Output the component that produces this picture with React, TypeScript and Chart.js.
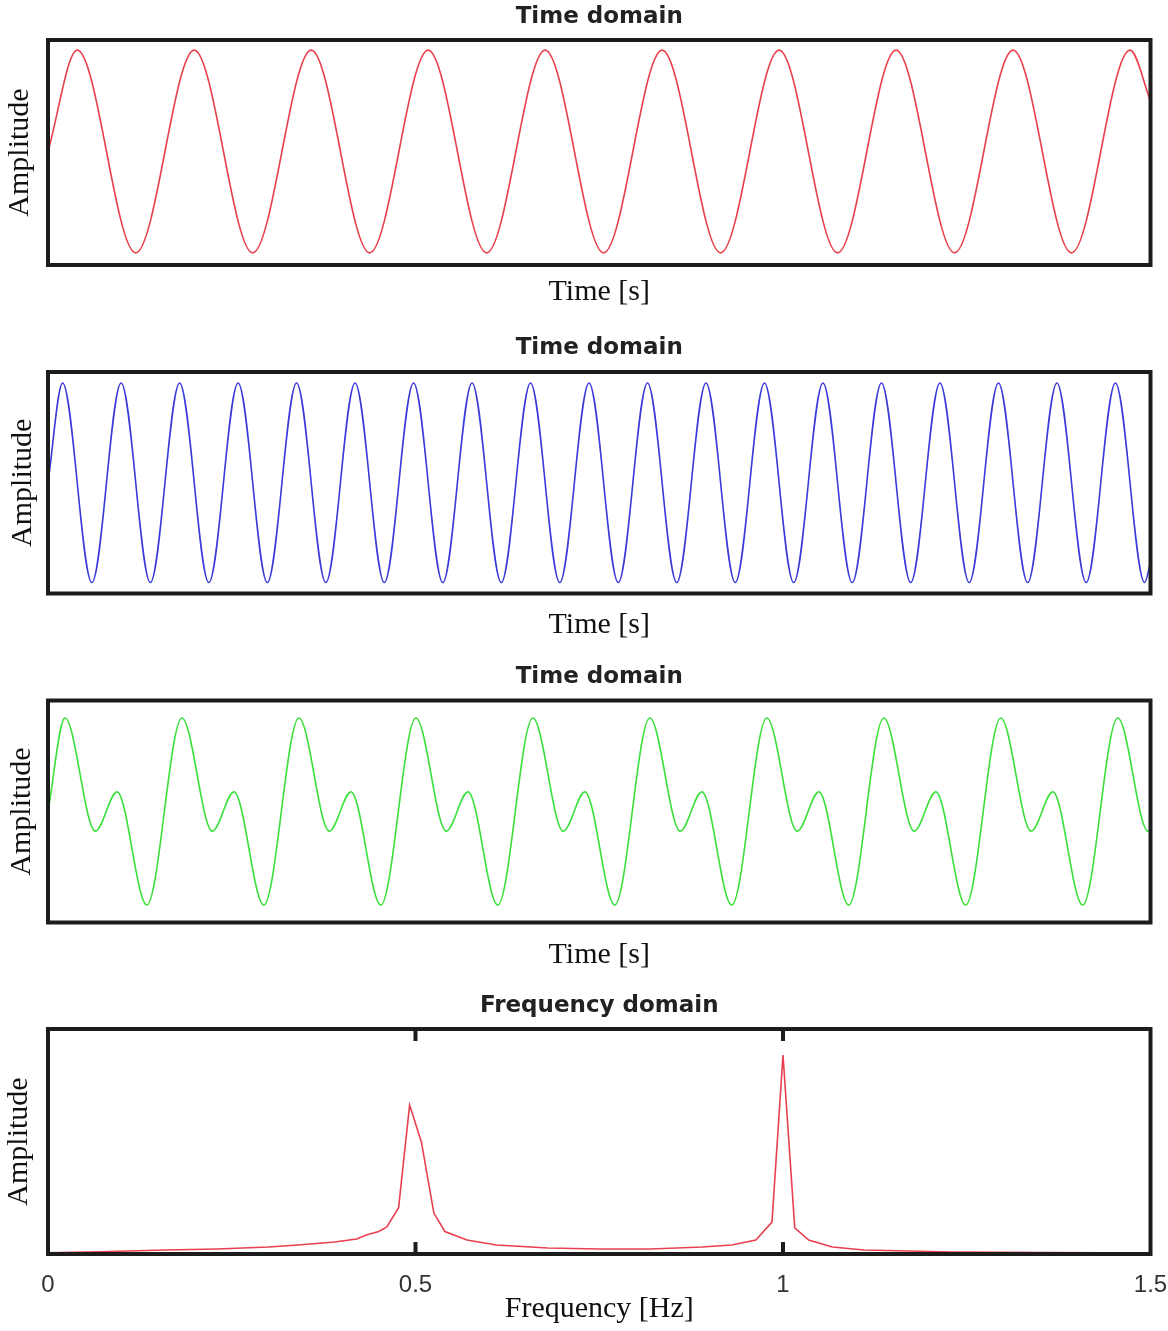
import React, { useEffect, useRef } from "react";
import { Chart, registerables } from "chart.js";

Chart.register(...registerables);

// ---- Data ----
// Panel 1 (red, time domain): extrema times [s] and amplitudes
const redTime = [0, 0.5, 1.5, 2.5, 3.5, 4.5, 5.5, 6.5, 7.5, 8.5, 9.5, 10.5, 11.5, 12.5, 13.5, 14.5, 15.5, 16.5, 17.5, 18.5, 18.85];
const redAmp = [0, 1, -1, 1, -1, 1, -1, 1, -1, 1, -1, 1, -1, 1, -1, 1, -1, 1, -1, 1, 0.5];

// Panel 2 (blue, time domain)
const blueTime = [
  0, 0.25, 0.75, 1.25, 1.75, 2.25, 2.75, 3.25, 3.75, 4.25, 4.75, 5.25, 5.75, 6.25, 6.75, 7.25, 7.75,
  8.25, 8.75, 9.25, 9.75, 10.25, 10.75, 11.25, 11.75, 12.25, 12.75, 13.25, 13.75, 14.25, 14.75,
  15.25, 15.75, 16.25, 16.75, 17.25, 17.75, 18.25, 18.75, 18.85,
];
const blueAmp = [
  0, 1, -1, 1, -1, 1, -1, 1, -1, 1, -1, 1, -1, 1, -1, 1, -1,
  1, -1, 1, -1, 1, -1, 1, -1, 1, -1, 1, -1, 1, -1,
  1, -1, 1, -1, 1, -1, 1, -1, -0.8,
];

// Panel 3 (green, time domain)
const greenTime = [
  0, 0.29, 0.81, 1.18, 1.69, 2.29, 2.81, 3.18, 3.69, 4.29, 4.81, 5.18, 5.69, 6.29, 6.81, 7.18, 7.69,
  8.29, 8.81, 9.18, 9.69, 10.29, 10.81, 11.18, 11.69, 12.29, 12.81, 13.18, 13.69, 14.29, 14.81,
  15.18, 15.69, 16.29, 16.81, 17.18, 17.69, 18.29, 18.81, 18.85,
];
const greenAmp = [
  0, 1.76, -0.37, 0.37, -1.76, 1.76, -0.37, 0.37, -1.76, 1.76, -0.37, 0.37, -1.76, 1.76, -0.37, 0.37, -1.76,
  1.76, -0.37, 0.37, -1.76, 1.76, -0.37, 0.37, -1.76, 1.76, -0.37, 0.37, -1.76, 1.76, -0.37,
  0.37, -1.76, 1.76, -0.37, 0.37, -1.76, 1.76, -0.37, -0.36,
];

// Panel 4 (frequency domain)
const freqHz = [
  0, 0.07, 0.16, 0.23, 0.3, 0.34, 0.39, 0.42, 0.433, 0.45, 0.461, 0.477, 0.492, 0.508, 0.525, 0.54,
  0.57, 0.61, 0.68, 0.75, 0.82, 0.89, 0.93, 0.963, 0.985, 1.0, 1.016, 1.035, 1.067, 1.11, 1.23, 1.5,
];
const freqAmp = [
  0.005, 0.01, 0.018, 0.022, 0.031, 0.04, 0.053, 0.067, 0.084, 0.1, 0.12, 0.206, 0.662, 0.498, 0.182, 0.1,
  0.062, 0.04, 0.027, 0.022, 0.022, 0.031, 0.04, 0.062, 0.142, 0.884, 0.116, 0.062, 0.031, 0.018, 0.009, 0.004,
];
const freqTicks = [0, 0.5, 1, 1.5];

const timeTitle = "Time domain";
const freqTitle = "Frequency domain";
const ampLabel = "Amplitude";
const timeLabel = "Time [s]";
const freqLabel = "Frequency [Hz]";

const framePlugin = {
  id: "frame",
  afterDatasetsDraw(chart: any, _args: any, opts: any) {
    const { ctx, chartArea: a } = chart;
    ctx.save();
    ctx.strokeStyle = "#1c1c1c";
    if (opts.innerTicks) {
      const xs = chart.scales.x;
      ctx.lineWidth = 4;
      xs.ticks.forEach((t: any) => {
        const px = xs.getPixelForValue(t.value);
        if (px <= a.left + 3 || px >= a.right - 3) return;
        ctx.beginPath();
        ctx.moveTo(px, a.top);
        ctx.lineTo(px, a.top + 12);
        ctx.moveTo(px, a.bottom);
        ctx.lineTo(px, a.bottom - 12);
        ctx.stroke();
      });
    }
    ctx.lineWidth = 4;
    ctx.strokeRect(a.left, a.top, a.right - a.left, a.bottom - a.top);
    ctx.restore();
  },
};

type PanelSpec = {
  top: number;
  height: number;
  titleY: number;
  areaTop: number;
  areaBottom: number;
  xlabelY: number;
  ylabelX: number;
  title: string;
  xLabel: string;
  xs: number[];
  ys: number[];
  color: string;
  xMax: number;
  yMin: number;
  yMax: number;
  smooth: boolean;
  freq?: boolean;
  tickY?: number;
};

const WIDTH = 1168;
const AREA_LEFT = 48;
const AREA_RIGHT = 1150.5;

function buildConfig(p: PanelSpec): any {
  const titleSize = 23;
  const lh = titleSize * 1.2;
  const tTop = p.titleY - p.top - lh / 2;
  const tBottom = p.areaTop - p.top - tTop - lh;
  const xH = p.top + p.height - p.areaBottom;
  const xPad = p.top + p.height - p.xlabelY - 18;
  const tickPad = p.tickY ? p.tickY - p.areaBottom - 14.4 : 0;

  return {
    type: "line",
    data: {
      datasets: [
        {
          data: p.xs.map((x, i) => ({ x, y: p.ys[i] })),
          borderColor: p.color,
          borderWidth: 1.6,
          pointRadius: 0,
          fill: false,
          tension: p.smooth ? 0.4 : 0,
          cubicInterpolationMode: p.smooth ? "monotone" : "default",
        },
      ],
    },
    options: {
      responsive: false,
      animation: false,
      layout: { padding: { left: 0, right: WIDTH - AREA_RIGHT, top: 0, bottom: 0 } },
      plugins: {
        legend: { display: false },
        tooltip: { enabled: false },
        title: {
          display: true,
          fullSize: false,
          text: p.title,
          color: "#222",
          font: { family: "DejaVu Sans", size: titleSize, weight: "bold", lineHeight: 1.2 },
          padding: { top: tTop, bottom: tBottom },
        },
        frame: { innerTicks: !!p.freq },
      },
      scales: {
        x: {
          type: "linear",
          min: 0,
          max: p.xMax,
          grid: { display: false, drawTicks: false },
          border: { display: false },
          ticks: p.freq
            ? {
                display: true,
                autoSkip: false,
                maxRotation: 0,
                stepSize: 0.5,
                padding: tickPad,
                color: "#333",
                font: { family: "Liberation Sans", size: 24, lineHeight: 1.2 },
                callback: (v: number) => (freqTicks.includes(v) ? String(v) : ""),
              }
            : { display: false },
          title: {
            display: true,
            text: p.xLabel,
            color: "#111",
            font: { family: "Liberation Serif", size: 30, lineHeight: 1.2 },
            padding: { top: 0, bottom: xPad },
          },
          afterFit: (s: any) => {
            s.height = xH;
            s.paddingLeft = 0;
            s.paddingRight = 0;
          },
        },
        y: {
          type: "linear",
          min: p.yMin,
          max: p.yMax,
          grid: { display: false, drawTicks: false },
          border: { display: false },
          ticks: { display: false },
          title: {
            display: true,
            text: ampLabel,
            color: "#111",
            font: { family: "Liberation Serif", size: 30, lineHeight: 1.2 },
            padding: { top: p.ylabelX - 18, bottom: 0 },
          },
          afterFit: (s: any) => {
            s.width = AREA_LEFT;
          },
        },
      },
    },
    plugins: [framePlugin],
  };
}

const panels: PanelSpec[] = [
  {
    top: 0, height: 318, titleY: 17, areaTop: 40, areaBottom: 265, xlabelY: 292, ylabelX: 20,
    title: timeTitle, xLabel: timeLabel, xs: redTime, ys: redAmp, color: "#e8404c",
    xMax: 18.85, yMin: -1.12, yMax: 1.1, smooth: true,
  },
  {
    top: 318, height: 332, titleY: 348, areaTop: 372, areaBottom: 593.5, xlabelY: 625, ylabelX: 23,
    title: timeTitle, xLabel: timeLabel, xs: blueTime, ys: blueAmp, color: "#3a3ad8",
    xMax: 18.85, yMin: -1.11, yMax: 1.11, smooth: true,
  },
  {
    top: 650, height: 330, titleY: 677, areaTop: 700.5, areaBottom: 922.5, xlabelY: 955, ylabelX: 22,
    title: timeTitle, xLabel: timeLabel, xs: greenTime, ys: greenAmp, color: "#3ae03a",
    xMax: 18.85, yMin: -2.09, yMax: 2.09, smooth: true,
  },
  {
    top: 980, height: 351, titleY: 1006, areaTop: 1029, areaBottom: 1254, xlabelY: 1309, ylabelX: 19,
    title: freqTitle, xLabel: freqLabel, xs: freqHz, ys: freqAmp, color: "#e84050",
    xMax: 1.5, yMin: 0, yMax: 1, smooth: false, freq: true, tickY: 1285,
  },
];

function Panel({ spec }: { spec: PanelSpec }) {
  const ref = useRef<HTMLCanvasElement | null>(null);
  useEffect(() => {
    if (!ref.current) return;
    const chart = new Chart(ref.current, buildConfig(spec));
    return () => chart.destroy();
  }, [spec]);
  return (
    <canvas
      ref={ref}
      width={WIDTH}
      height={spec.height}
      style={{ position: "absolute", left: 0, top: spec.top, width: WIDTH, height: spec.height }}
    />
  );
}

export default function App() {
  return (
    <div style={{ position: "absolute", left: 0, top: 0, width: WIDTH, height: 1331, background: "#fff" }}>
      {panels.map((p, i) => (
        <Panel key={i} spec={p} />
      ))}
    </div>
  );
}
